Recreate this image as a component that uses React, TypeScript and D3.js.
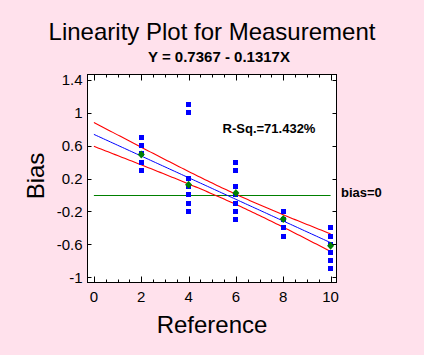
import React from 'react';
import * as d3 from 'd3';

// Reference values and measured bias (12 measurements per reference part)
const references = [2, 4, 6, 8, 10];
const biasAt2 = [0.7, 0.5, 0.4, 0.5, 0.7, 0.3, 0.5, 0.5, 0.4, 0.4, 0.6, 0.4];
const biasAt4 = [1.1, -0.1, 0.2, 1.0, -0.2, -0.1, -0.1, -0.1, -0.1, 0.0, 0.1, -0.2];
const biasAt6 = [-0.2, -0.3, -0.1, -0.1, 0.0, 0.1, 0.0, 0.1, 0.4, 0.3, 0.0, 0.1];
const biasAt8 = [-0.4, -0.3, -0.2, -0.3, -0.2, -0.2, -0.2, -0.3, -0.2, -0.5, -0.4, -0.3];
const biasAt10 = [-0.9, -0.7, -0.5, -0.7, -0.6, -0.5, -0.5, -0.5, -0.4, -0.8, -0.7, -0.6];
const biasSeries = [biasAt2, biasAt4, biasAt6, biasAt8, biasAt10];

const intercept = 0.7367;
const slope = -0.1317;
const tCrit = 2.0017; // t(0.975, 58)

const xTicks = [0, 2, 4, 6, 8, 10];
const xMinorTicks = d3.range(0, 10.01, 0.5);
const yTicks = [-1, -0.6, -0.2, 0.2, 0.6, 1, 1.4];

const titleText = 'Linearity Plot for Measurement';
const subtitleText = 'Y = 0.7367 - 0.1317X';
const rsqText = 'R-Sq.=71.432%';
const zeroLabel = 'bias=0';
const xLabel = 'Reference';
const yLabel = 'Bias';

const W = 424;
const H = 355;
const FONT = "'Liberation Sans', Arial, sans-serif";

export default function App() {
  const left = 87.5, right = 336.5, top = 74.5, bottom = 282.5;
  const x = d3.scaleLinear().domain([-0.27, 10.25]).range([left, right]);
  const y = d3.scaleLinear().domain([-1.065, 1.465]).range([bottom, top]);

  // regression stats
  const pts: { x: number; y: number }[] = [];
  references.forEach((r, i) => biasSeries[i].forEach((b) => pts.push({ x: r, y: b })));
  const n = pts.length;
  const xbar = d3.mean(pts, (p) => p.x) as number;
  const sxx = d3.sum(pts, (p) => (p.x - xbar) ** 2);
  const sse = d3.sum(pts, (p) => (p.y - (intercept + slope * p.x)) ** 2);
  const s = Math.sqrt(sse / (n - 2));
  const xs = d3.range(0, 10.001, 0.1);
  const half = (xv: number) => tCrit * s * Math.sqrt(1 / n + (xv - xbar) ** 2 / sxx);

  const line = d3
    .line<number[]>()
    .x((d) => x(d[0]))
    .y((d) => y(d[1]));
  const fitPath = line(xs.map((v) => [v, intercept + slope * v]));
  const upPath = line(xs.map((v) => [v, intercept + slope * v + half(v)]));
  const loPath = line(xs.map((v) => [v, intercept + slope * v - half(v)]));

  const means = references.map((r, i) => ({ x: r, y: d3.mean(biasSeries[i]) as number }));
  const y0 = Math.round(y(0)) + 0.5;

  return (
    <svg
      width={W}
      height={H}
      style={{ position: 'absolute', left: 0, top: 0, display: 'block' }}
      fontFamily={FONT}
    >
      <rect x={0} y={0} width={W} height={H} fill="#FFE1EC" />
      <rect x={left} y={top} width={right - left} height={bottom - top} fill="#FFFFFF" />

      {/* zero line */}
      <line x1={x(0)} x2={x(10)} y1={y0} y2={y0} stroke="#008000" strokeWidth={1.2} />
      {/* confidence bands */}
      <path d={upPath || ''} fill="none" stroke="#FF0000" strokeWidth={1.1} />
      <path d={loPath || ''} fill="none" stroke="#FF0000" strokeWidth={1.1} />
      <path d={fitPath || ''} fill="none" stroke="#0000FF" strokeWidth={1} />

      {/* points */}
      {pts.map((p, i) => (
        <rect key={i} x={Math.round(x(p.x) - 2.5)} y={Math.round(y(p.y) - 2.5)} width={5} height={5} fill="#0000FF" />
      ))}
      {/* means */}
      {means.map((m, i) => (
        <path
          key={i}
          d={`M${x(m.x)},${y(m.y) - 4}L${x(m.x) + 3.5},${y(m.y)}L${x(m.x)},${y(m.y) + 4}L${x(m.x) - 3.5},${y(m.y)}Z`}
          fill="#008000"
        />
      ))}

      {/* frame */}
      <rect x={left} y={top} width={right - left} height={bottom - top} fill="none" stroke="#000" strokeWidth={1} />

      {/* y ticks */}
      {yTicks.map((t) => (
        <g key={t}>
          <line x1={left} x2={left + 4} y1={Math.round(y(t)) + 0.5} y2={Math.round(y(t)) + 0.5} stroke="#000" />
          <line x1={right - 4} x2={right} y1={Math.round(y(t)) + 0.5} y2={Math.round(y(t)) + 0.5} stroke="#000" />
          <text x={left - 5} y={y(t)} dy="0.36em" textAnchor="end" fontSize={15} fill="#000">
            {String(t)}
          </text>
        </g>
      ))}
      {/* x ticks */}
      {xMinorTicks.map((t) => {
        const major = Math.abs(t % 2) < 1e-9;
        const len = major ? 6 : 3;
        const px = Math.round(x(t)) + 0.5;
        return (
          <g key={t}>
            <line x1={px} x2={px} y1={bottom} y2={bottom - len} stroke="#000" />
            <line x1={px} x2={px} y1={top} y2={top + len} stroke="#000" />
          </g>
        );
      })}
      {xTicks.map((t) => (
        <text key={t} x={x(t)} y={302} textAnchor="middle" fontSize={15} fill="#000">
          {String(t)}
        </text>
      ))}

      {/* texts */}
      <text x={212} y={39.5} textAnchor="middle" fontSize={24} fill="#000">
        {titleText}
      </text>
      <text x={219} y={62} textAnchor="middle" fontSize={15} fontWeight="bold" fill="#000">
        {subtitleText}
      </text>
      <text x={269} y={132.5} textAnchor="middle" fontSize={13} fontWeight="bold" fill="#000">
        {rsqText}
      </text>
      <text x={341} y={197} fontSize={13} fontWeight="bold" fill="#000">
        {zeroLabel}
      </text>
      <text x={212} y={333} textAnchor="middle" fontSize={24} fill="#000">
        {xLabel}
      </text>
      <text
        transform={`translate(43.5,176) rotate(-90)`}
        textAnchor="middle"
        fontSize={24}
        fill="#000"
      >
        {yLabel}
      </text>
    </svg>
  );
}
